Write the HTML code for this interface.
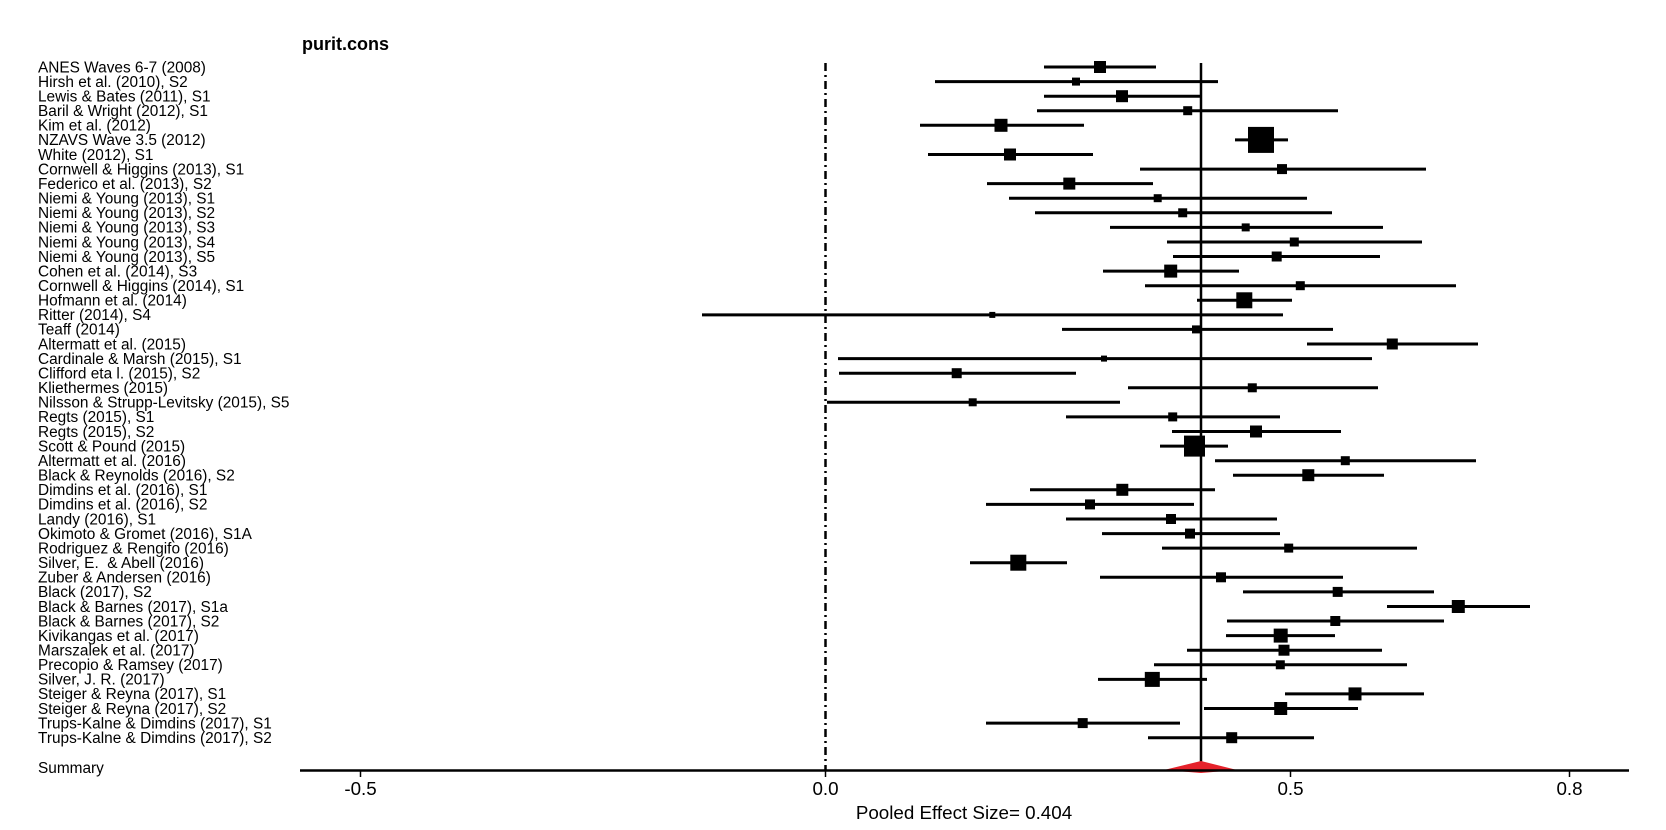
<!DOCTYPE html>
<html><head><meta charset="utf-8"><style>
html,body{margin:0;padding:0;background:#fff;}
svg{display:block;}
text{font-family:"Liberation Sans",Arial,sans-serif;fill:#000;}
.lb{font-size:15.4px;}
</style></head><body>
<svg width="1666" height="830" viewBox="0 0 1666 830" xmlns="http://www.w3.org/2000/svg">
<rect width="1666" height="830" fill="#fff"/>
<text x="302" y="50" style="font-size:18px;font-weight:bold">purit.cons</text>
<g class="lb" style="white-space:pre">
<text x="38" y="72.3">ANES Waves 6-7 (2008)</text>
<text x="38" y="86.9">Hirsh et al. (2010), S2</text>
<text x="38" y="101.5">Lewis &amp; Bates (2011), S1</text>
<text x="38" y="116.0">Baril &amp; Wright (2012), S1</text>
<text x="38" y="130.6">Kim et al. (2012)</text>
<text x="38" y="145.2">NZAVS Wave 3.5 (2012)</text>
<text x="38" y="159.8">White (2012), S1</text>
<text x="38" y="174.4">Cornwell &amp; Higgins (2013), S1</text>
<text x="38" y="188.9">Federico et al. (2013), S2</text>
<text x="38" y="203.5">Niemi &amp; Young (2013), S1</text>
<text x="38" y="218.1">Niemi &amp; Young (2013), S2</text>
<text x="38" y="232.7">Niemi &amp; Young (2013), S3</text>
<text x="38" y="247.3">Niemi &amp; Young (2013), S4</text>
<text x="38" y="261.8">Niemi &amp; Young (2013), S5</text>
<text x="38" y="276.4">Cohen et al. (2014), S3</text>
<text x="38" y="291.0">Cornwell &amp; Higgins (2014), S1</text>
<text x="38" y="305.6">Hofmann et al. (2014)</text>
<text x="38" y="320.2">Ritter (2014), S4</text>
<text x="38" y="334.7">Teaff (2014)</text>
<text x="38" y="349.3">Altermatt et al. (2015)</text>
<text x="38" y="363.9">Cardinale &amp; Marsh (2015), S1</text>
<text x="38" y="378.5">Clifford eta l. (2015), S2</text>
<text x="38" y="393.1">Kliethermes (2015)</text>
<text x="38" y="407.6">Nilsson &amp; Strupp-Levitsky (2015), S5</text>
<text x="38" y="422.2">Regts (2015), S1</text>
<text x="38" y="436.8">Regts (2015), S2</text>
<text x="38" y="451.4">Scott &amp; Pound (2015)</text>
<text x="38" y="466.0">Altermatt et al. (2016)</text>
<text x="38" y="480.5">Black &amp; Reynolds (2016), S2</text>
<text x="38" y="495.1">Dimdins et al. (2016), S1</text>
<text x="38" y="509.7">Dimdins et al. (2016), S2</text>
<text x="38" y="524.3">Landy (2016), S1</text>
<text x="38" y="538.9">Okimoto &amp; Gromet (2016), S1A</text>
<text x="38" y="553.4">Rodriguez &amp; Rengifo (2016)</text>
<text x="38" y="568.0">Silver, E. &#160;&amp; Abell (2016)</text>
<text x="38" y="582.6">Zuber &amp; Andersen (2016)</text>
<text x="38" y="597.2">Black (2017), S2</text>
<text x="38" y="611.8">Black &amp; Barnes (2017), S1a</text>
<text x="38" y="626.3">Black &amp; Barnes (2017), S2</text>
<text x="38" y="640.9">Kivikangas et al. (2017)</text>
<text x="38" y="655.5">Marszalek et al. (2017)</text>
<text x="38" y="670.1">Precopio &amp; Ramsey (2017)</text>
<text x="38" y="684.7">Silver, J. R. (2017)</text>
<text x="38" y="699.2">Steiger &amp; Reyna (2017), S1</text>
<text x="38" y="713.8">Steiger &amp; Reyna (2017), S2</text>
<text x="38" y="728.4">Trups-Kalne &amp; Dimdins (2017), S1</text>
<text x="38" y="743.0">Trups-Kalne &amp; Dimdins (2017), S2</text>
<text x="38" y="773.0">Summary</text>
</g>
<!-- reference lines -->
<line x1="825.5" y1="63" x2="825.5" y2="770" stroke="#000" stroke-width="2.5" stroke-dasharray="8 4 2 4"/>
<line x1="1201" y1="63" x2="1201" y2="770" stroke="#000" stroke-width="2.5"/>
<!-- CI lines -->
<g stroke="#000" stroke-width="3">
<line x1="1044" y1="67.0" x2="1156" y2="67.0"/>
<line x1="935" y1="81.6" x2="1218" y2="81.6"/>
<line x1="1044" y1="96.2" x2="1201" y2="96.2"/>
<line x1="1037" y1="110.7" x2="1338" y2="110.7"/>
<line x1="920" y1="125.3" x2="1084" y2="125.3"/>
<line x1="1235" y1="139.9" x2="1288" y2="139.9"/>
<line x1="928" y1="154.5" x2="1093" y2="154.5"/>
<line x1="1140" y1="169.1" x2="1426" y2="169.1"/>
<line x1="987" y1="183.6" x2="1153" y2="183.6"/>
<line x1="1009" y1="198.2" x2="1307" y2="198.2"/>
<line x1="1035" y1="212.8" x2="1332" y2="212.8"/>
<line x1="1110" y1="227.4" x2="1383" y2="227.4"/>
<line x1="1167" y1="242.0" x2="1422" y2="242.0"/>
<line x1="1173" y1="256.5" x2="1380" y2="256.5"/>
<line x1="1103" y1="271.1" x2="1239" y2="271.1"/>
<line x1="1145" y1="285.7" x2="1456" y2="285.7"/>
<line x1="1197" y1="300.3" x2="1292" y2="300.3"/>
<line x1="702" y1="314.9" x2="1283" y2="314.9"/>
<line x1="1062" y1="329.4" x2="1333" y2="329.4"/>
<line x1="1307" y1="344.0" x2="1478" y2="344.0"/>
<line x1="838" y1="358.6" x2="1372" y2="358.6"/>
<line x1="839" y1="373.2" x2="1076" y2="373.2"/>
<line x1="1128" y1="387.8" x2="1378" y2="387.8"/>
<line x1="827" y1="402.3" x2="1120" y2="402.3"/>
<line x1="1066" y1="416.9" x2="1280" y2="416.9"/>
<line x1="1172" y1="431.5" x2="1341" y2="431.5"/>
<line x1="1160" y1="446.1" x2="1228" y2="446.1"/>
<line x1="1215" y1="460.7" x2="1476" y2="460.7"/>
<line x1="1233" y1="475.2" x2="1384" y2="475.2"/>
<line x1="1030" y1="489.8" x2="1215" y2="489.8"/>
<line x1="986" y1="504.4" x2="1194" y2="504.4"/>
<line x1="1066" y1="519.0" x2="1277" y2="519.0"/>
<line x1="1102" y1="533.6" x2="1280" y2="533.6"/>
<line x1="1162" y1="548.1" x2="1417" y2="548.1"/>
<line x1="970" y1="562.7" x2="1067" y2="562.7"/>
<line x1="1100" y1="577.3" x2="1343" y2="577.3"/>
<line x1="1243" y1="591.9" x2="1434" y2="591.9"/>
<line x1="1387" y1="606.5" x2="1530" y2="606.5"/>
<line x1="1227" y1="621.0" x2="1444" y2="621.0"/>
<line x1="1226" y1="635.6" x2="1335" y2="635.6"/>
<line x1="1187" y1="650.2" x2="1382" y2="650.2"/>
<line x1="1154" y1="664.8" x2="1407" y2="664.8"/>
<line x1="1098" y1="679.4" x2="1207" y2="679.4"/>
<line x1="1285" y1="693.9" x2="1424" y2="693.9"/>
<line x1="1204" y1="708.5" x2="1358" y2="708.5"/>
<line x1="986" y1="723.1" x2="1180" y2="723.1"/>
<line x1="1148" y1="737.7" x2="1314" y2="737.7"/>
</g>
<!-- point estimates -->
<g fill="#000">
<rect x="1094" y="61" width="12" height="12"/>
<rect x="1072" y="77.6" width="8" height="8"/>
<rect x="1116" y="90.2" width="12" height="12"/>
<rect x="1183.2" y="106.2" width="9" height="9"/>
<rect x="994.5" y="118.8" width="13" height="13"/>
<rect x="1248" y="126.9" width="26" height="26"/>
<rect x="1004" y="148.5" width="12" height="12"/>
<rect x="1277" y="164.1" width="10" height="10"/>
<rect x="1063.3" y="177.6" width="12" height="12"/>
<rect x="1153.7" y="194.2" width="8" height="8"/>
<rect x="1178.2" y="208.3" width="9" height="9"/>
<rect x="1241.7" y="223.4" width="8" height="8"/>
<rect x="1289.8" y="237.5" width="9" height="9"/>
<rect x="1271.7" y="251.5" width="10" height="10"/>
<rect x="1164.2" y="264.6" width="13" height="13"/>
<rect x="1295.8" y="281.2" width="9" height="9"/>
<rect x="1236.3" y="292.3" width="16" height="16"/>
<rect x="989.3" y="311.9" width="6" height="6"/>
<rect x="1192" y="325.4" width="8" height="8"/>
<rect x="1386.8" y="338.5" width="11" height="11"/>
<rect x="1101" y="355.6" width="6" height="6"/>
<rect x="951.7" y="368.2" width="10" height="10"/>
<rect x="1247.8" y="383.3" width="9" height="9"/>
<rect x="968.7" y="398.3" width="8" height="8"/>
<rect x="1168.2" y="412.4" width="9" height="9"/>
<rect x="1250" y="425.5" width="12" height="12"/>
<rect x="1184" y="435.6" width="21" height="21"/>
<rect x="1340.8" y="456.2" width="9" height="9"/>
<rect x="1302.3" y="469.2" width="12" height="12"/>
<rect x="1116.3" y="483.8" width="12" height="12"/>
<rect x="1085" y="499.4" width="10" height="10"/>
<rect x="1166" y="514" width="10" height="10"/>
<rect x="1185" y="528.6" width="10" height="10"/>
<rect x="1284.2" y="543.6" width="9" height="9"/>
<rect x="1010.3" y="554.7" width="16" height="16"/>
<rect x="1216" y="572.3" width="10" height="10"/>
<rect x="1332.7" y="586.9" width="10" height="10"/>
<rect x="1451.8" y="600" width="13" height="13"/>
<rect x="1330.3" y="616" width="10" height="10"/>
<rect x="1273.7" y="628.6" width="14" height="14"/>
<rect x="1278.5" y="644.7" width="11" height="11"/>
<rect x="1275.8" y="660.3" width="9" height="9"/>
<rect x="1144.8" y="671.9" width="15" height="15"/>
<rect x="1348.5" y="687.4" width="13" height="13"/>
<rect x="1274.2" y="702" width="13" height="13"/>
<rect x="1077.7" y="718.1" width="10" height="10"/>
<rect x="1226.2" y="732.2" width="11" height="11"/>
</g>
<!-- summary diamond -->
<polygon points="1164,770 1201,761 1237,770 1201,773" fill="#e5222b"/>
<!-- axis -->
<line x1="300" y1="770.5" x2="1629" y2="770.5" stroke="#000" stroke-width="2.5"/>
<g stroke="#000" stroke-width="1.5">
<line x1="360.5" y1="770" x2="360.5" y2="777"/>
<line x1="825.5" y1="770" x2="825.5" y2="777"/>
<line x1="1290.5" y1="770" x2="1290.5" y2="777"/>
<line x1="1569.5" y1="770" x2="1569.5" y2="777"/>
</g>
<g style="font-size:18.8px" text-anchor="middle">
<text x="360.5" y="795">-0.5</text>
<text x="825.5" y="795">0.0</text>
<text x="1290.5" y="795">0.5</text>
<text x="1569.5" y="795">0.8</text>
<text x="964" y="819">Pooled Effect Size= 0.404</text>
</g>
</svg>
</body></html>
